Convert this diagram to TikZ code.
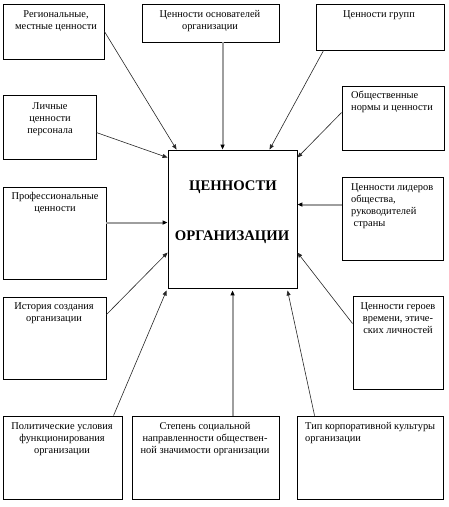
\documentclass[tikz,border=0pt]{standalone}
\usepackage{fontspec}
\setmainfont{Liberation Serif}
\usetikzlibrary{arrows.meta}
\begin{document}
\begin{tikzpicture}[x=1pt,y=-1pt,
  box/.style={draw=black,line width=0.9pt,inner sep=0pt,rectangle},
  txt/.style={inner sep=0pt,font=\fontsize{10.4}{12}\selectfont,align=center,anchor=north},
  ltxt/.style={inner sep=0pt,font=\fontsize{10.4}{12}\selectfont,align=left,anchor=north west},
  big/.style={inner sep=0pt,font=\fontsize{14.7}{16}\selectfont\bfseries},
  blk/.style={draw=black!85,line width=0.6pt,-{Triangle[length=5pt,width=4pt]}},
  gry/.style={draw=black!38,line width=2pt,-{Triangle[length=5pt,width=4pt,fill=black,color=black]}}
]
\useasboundingbox (0,0) rectangle (449,507);
% boxes
\node[box,minimum width=101pt,minimum height=55pt] (b1) at (53.5,31.5) {};
\node[box,minimum width=137pt,minimum height=38pt] (b2) at (210.5,23) {};
\node[box,minimum width=128pt,minimum height=46pt] (b3) at (380,27) {};
\node[box,minimum width=102pt,minimum height=64pt] (b4) at (393,118) {};
\node[box,minimum width=93pt,minimum height=64pt] (b5) at (49.5,127) {};
\node[box,minimum width=129pt,minimum height=138pt] (c) at (232.5,219) {};
\node[box,minimum width=103pt,minimum height=92pt] (b6) at (54.5,233) {};
\node[box,minimum width=103pt,minimum height=82pt] (b7) at (54.5,338) {};
\node[box,minimum width=101pt,minimum height=83pt] (b12) at (392.5,218.5) {};
\node[box,minimum width=90pt,minimum height=93pt] (b11) at (398,342.5) {};
\node[box,minimum width=119pt,minimum height=83pt] (b8) at (62.5,457.5) {};
\node[box,minimum width=147pt,minimum height=83pt] (b9) at (205.5,457.5) {};
\node[box,minimum width=146pt,minimum height=83pt] (b10) at (370,457.5) {};
% texts
\node[txt] (t1) at (56,10) {Региональные,\\местные ценности};
\node[txt] (t2) at (210,10) {Ценности основателей\\организации};
\node[txt] (t3) at (379,10) {Ценности групп};
\node[ltxt] (t4) at (351,91) {Общественные\\нормы и ценности};
\node[txt] (t5) at (50,102.5) {Личные\\ценности\\персонала};
\node[txt] (t6) at (55,192) {Профессиональные\\ценности};
\node[txt] (t7) at (54,302) {История создания\\организации};
\node[ltxt] (t12) at (351,183) {Ценности лидеров\\общества,\\руководителей\\\hspace*{2.5pt}страны};
\node[txt] (t11) at (398,302) {Ценности героев\\времени, этиче-\\ских личностей};
\node[txt] (t8) at (62,422) {Политические условия\\функционирования\\организации};
\node[txt] (t9) at (205,422) {Степень социальной\\направленности обществен-\\ной значимости организации};
\node[ltxt] (t10) at (305,422) {Тип корпоративной культуры\\организации};
\node[big] (m1) at (233,187) {ЦЕННОСТИ};
\node[big] (m2) at (232,237) {ОРГАНИЗАЦИИ};
% connectors
\draw[blk] (b1.east) -- ([xshift=9pt]c.north west);
\draw[gry] ([xshift=81pt]b2.south west) -- ([xshift=55pt]c.north west);
\draw[blk] ([xshift=8pt]b3.south west) -- ([xshift=102pt]c.north west);
\draw[blk] ([yshift=-27pt]b4.north west) -- ([yshift=-8pt]c.north east);
\draw[blk] ([yshift=-38pt]b5.north east) -- ([yshift=-8pt]c.north west);
\draw[gry] ([yshift=-36pt]b6.north east) -- ([yshift=-73pt]c.north west);
\draw[blk] ([yshift=-18pt]b7.north east) -- ([yshift=-103pt]c.north west);
\draw[blk] ([xshift=111pt]b8.north west) -- ([xshift=-1pt,yshift=-2pt]c.south west);
\draw[gry] ([xshift=101pt]b9.north west) -- ([xshift=65pt,yshift=-2pt]c.south west);
\draw[blk] ([xshift=18pt]b10.north west) -- ([xshift=120pt,yshift=-2pt]c.south west);
\draw[blk] ([yshift=-28pt]b11.north west) -- ([yshift=-103pt]c.north east);
\draw[gry] ([yshift=-28pt]b12.north west) -- ([yshift=-55pt]c.north east);
\end{tikzpicture}
\end{document}
